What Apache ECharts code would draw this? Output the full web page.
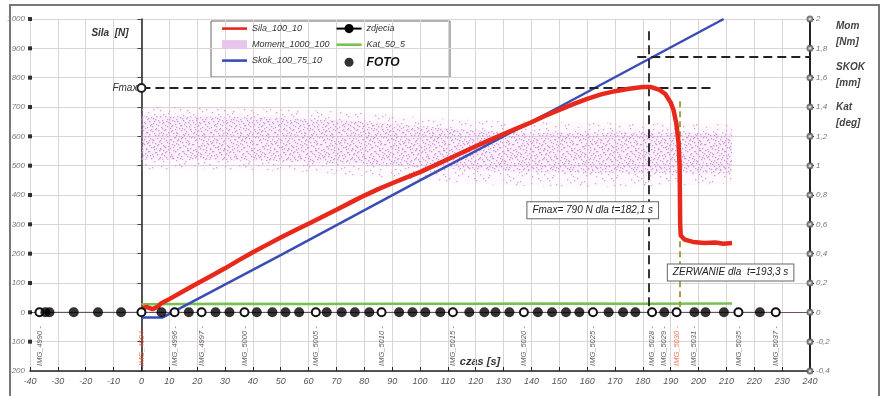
<!DOCTYPE html>
<html>
<head>
<meta charset="utf-8">
<script src="https://cdn.jsdelivr.net/npm/echarts@6/dist/echarts.min.js"></script>
<style>
  html, body { margin: 0; padding: 0; background: #fff; }
  #chart { width: 885px; height: 396px; }
</style>
</head>
<body>
<div id="chart"></div>
<script>
// Sila_100_10 [s, N] (left axis)
const silaPts = [
  [0, 14], [2, 18], [4, 11], [6, 20], [7, 30], [10, 45], [15, 72], [20, 98], [25, 124],
  [30, 150], [35, 178], [40, 205], [45, 230], [50, 255], [55, 279], [60, 302], [65, 326],
  [70, 350], [75, 374], [80, 398], [85, 420], [90, 440], [95, 459], [100, 478], [105, 500],
  [110, 522], [115, 544], [120, 566], [125, 587], [130, 608], [135, 628], [140, 648],
  [145, 670], [150, 690], [155, 710], [160, 728], [165, 743], [170, 754], [175, 762],
  [180, 768], [183, 768], [186, 758], [188, 745], [190, 715], [191, 690], [192, 645],
  [192.8, 580], [193.2, 500], [193.4, 300], [193.6, 262], [195, 248], [198, 240],
  [202, 236], [206, 238], [209, 234], [212, 236]
];
// Skok_100_75_10 [s, mm] (right axis)
const skokPts = [[0, -0.036], [7.5, -0.036], [50, 0.39], [100, 0.9], [150, 1.4], [209, 2.0]];
// Kat_50_5 [s, deg] (right axis)
const katPts = [[0, 0.055], [30, 0.058], [60, 0.057], [90, 0.059], [120, 0.058], [150, 0.06], [180, 0.059], [212, 0.061]];
// Moment_1000_100 cloud envelope [Nm] (right axis)
const cloudX         = [0, 20, 40, 60, 80, 100, 120, 140, 160, 180, 200, 212];
const cloudOuterLow  = [0.976, 0.976, 0.97, 0.956, 0.93, 0.9, 0.876, 0.86, 0.856, 0.86, 0.87, 0.88];
const cloudCoreLow   = [1.04, 1.04, 1.036, 1.024, 1.01, 0.99, 0.97, 0.956, 0.95, 0.948, 0.948, 0.95];
const cloudCoreHigh  = [1.34, 1.336, 1.33, 1.32, 1.3, 1.27, 1.24, 1.224, 1.224, 1.228, 1.224, 1.22];
const cloudOuterHigh = [1.4, 1.4, 1.39, 1.38, 1.36, 1.33, 1.31, 1.3, 1.296, 1.29, 1.29, 1.28];
// FOTO (black dots) and zdjecia (open circles) times [s]
const fotoTimes = [-34.5, -33, -24.3, -15.6, -7.3, 7.2, 17, 26.6, 31.6, 41.4, 47, 51.7, 56.6,
  66.5, 71.9, 76.6, 81.8, 92.5, 97.3, 101.9, 107.3, 117.7, 123.1, 127.1, 132.1, 142.3, 147.4,
  152.4, 157.2, 167.7, 172.9, 177.3, 187.7, 198.5, 202.5, 209.1, 222];
const zdjeciaTimes = [-36.6, 0, 11.9, 21.6, 37, 62.6, 86.2, 111.8, 137.3, 162.1, 183.3, 192.1, 214.3, 227.7];
const photoLabelTimes = [-36.6, 0, 11.9, 21.6, 37, 62.6, 86.2, 111.8, 137.3, 162.1, 183.3, 187.7, 192.1, 198.5, 214.3, 227.7];
const photoLabelNames = ['IMG_4990', 'IMG_4994', 'IMG_4996', 'IMG_4997', 'IMG_5000', 'IMG_5005',
  'IMG_5010', 'IMG_5015', 'IMG_5020', 'IMG_5025', 'IMG_5028', 'IMG_5029', 'IMG_5030', 'IMG_5031',
  'IMG_5035', 'IMG_5037'];
const photoLabelRed = ['IMG_4994', 'IMG_5030'];
// left-edge square markers [N] and right-axis circle markers
const leftMarks = [-100, 0, 100, 200, 300, 400, 500, 600, 700, 800, 900, 1000];
const rightMarks = [-0.4, -0.2, 0, 0.2, 0.4, 0.6, 0.8, 1, 1.2, 1.4, 1.6, 1.8, 2];
// key events
const fmaxTime = 182.1, fmaxLine = 765, breakTime = 193.3, skokAtFmax = 1.74;

const FONT = 'Arial, "Liberation Sans", sans-serif';

// speckle texture for the Moment cloud (Halton layout, texture only)
function halton(i, b) {
  let f = 1, r = 0;
  while (i > 0) { f /= b; r += f * (i % b); i = Math.floor(i / b); }
  return r;
}
function speckle(size, count, color) {
  const c = document.createElement('canvas');
  c.width = size; c.height = size;
  const g = c.getContext('2d');
  g.fillStyle = color;
  for (let i = 1; i <= count; i++) {
    g.fillRect(Math.floor(halton(i, 2) * size), Math.floor(halton(i, 3) * size), 1.3, 1.3);
  }
  return { image: c, repeat: 'repeat' };
}
const densePat = speckle(64, 440, '#d49ada');
const sparsePat = speckle(64, 120, '#d8a2dc');

function bandRenderer(low, high, fill, haze) {
  return function (params, api) {
    const top = cloudX.map((x, i) => api.coord([x, high[i]]));
    const bottom = cloudX.map((x, i) => api.coord([x, low[i]])).reverse();
    const pts = top.concat(bottom);
    return {
      type: 'group', silent: true,
      children: [
        { type: 'polygon', shape: { points: pts }, style: { fill: haze } },
        { type: 'polygon', shape: { points: pts }, style: { fill: fill } }
      ]
    };
  };
}

const lineIcon = 'path://M0,0h25v2.6h-25z';

const chart = echarts.init(document.getElementById('chart'), null, { renderer: 'canvas' });

chart.setOption({
  animation: false,
  textStyle: { fontFamily: FONT },
  grid: { left: 30, right: 75, top: 19, bottom: 25 },
  legend: {
    orient: 'vertical', left: 222, top: 24, height: 50, padding: 0,
    itemWidth: 25, itemHeight: 9, itemGap: 7,
    textStyle: { fontSize: 9, fontStyle: 'italic', color: '#333', fontFamily: FONT },
    data: [
      { name: 'Sila_100_10', icon: lineIcon },
      { name: 'Moment_1000_100', icon: 'rect', itemStyle: { color: '#e8c6ec' } },
      { name: 'Skok_100_75_10', icon: lineIcon },
      { name: 'zdjecia', itemStyle: { color: '#000', borderColor: '#000' }, lineStyle: { color: '#000' } },
      { name: 'Kat_50_5', icon: lineIcon },
      { name: 'FOTO', icon: 'circle', textStyle: { fontSize: 12, fontWeight: 'bold', fontStyle: 'italic', color: '#111' } }
    ]
  },
  xAxis: {
    type: 'value', min: -40, max: 240, interval: 10,
    axisLine: { onZero: false, lineStyle: { color: '#222', width: 1.5 } },
    axisTick: { inside: true, length: 4, lineStyle: { color: '#222' } },
    axisLabel: { fontSize: 9, fontStyle: 'italic', color: '#555', margin: 6 },
    splitLine: { show: true, lineStyle: { color: '#ddd3d3', width: 1 } }
  },
  yAxis: [
    {
      type: 'value', min: -200, max: 1000, interval: 100,
      axisLine: { show: true, onZero: true, lineStyle: { color: '#222', width: 1.5 } },
      axisTick: { show: true, length: 4, lineStyle: { color: '#444' } },
      axisLabel: { fontSize: 8, fontStyle: 'italic', color: '#777', margin: 5, formatter: v => String(v) },
      splitLine: { show: true, lineStyle: { color: '#ddd3d3', width: 1 } }
    },
    {
      type: 'value', position: 'right', min: -0.4, max: 2, interval: 0.2,
      axisLine: { show: true, lineStyle: { color: '#222', width: 2 } },
      axisTick: { show: true, length: 4, lineStyle: { color: '#444' } },
      axisLabel: {
        fontSize: 8, fontStyle: 'italic', color: '#777', margin: 6,
        formatter: v => String(Math.round(v * 10) / 10).replace('.', ',')
      },
      splitLine: { show: false }
    }
  ],
  graphic: [
    { type: 'rect', shape: { x: 10, y: 5, width: 869, height: 400 }, style: { fill: null, stroke: '#777', lineWidth: 2 }, silent: true },
    { type: 'rect', shape: { x: 211, y: 21, width: 239, height: 56 }, style: { fill: 'rgba(255,255,255,0.85)', stroke: '#666', lineWidth: 1 }, z: 0, silent: true },
    { type: 'text', style: { x: 110, y: 33, text: 'Sila  [N]', font: 'italic bold 10px ' + FONT, fill: '#333', textAlign: 'center', textVerticalAlign: 'middle' } },
    { type: 'text', style: { x: 480, y: 362, text: 'czas [s]', font: 'italic bold 11px ' + FONT, fill: '#333', textAlign: 'center', textVerticalAlign: 'middle' } },
    { type: 'text', style: { x: 836, y: 34, text: 'Mom\n[Nm]', font: 'italic bold 10px ' + FONT, lineHeight: 16, fill: '#444', textVerticalAlign: 'middle' } },
    { type: 'text', style: { x: 836, y: 75, text: 'SKOK\n[mm]', font: 'italic bold 10px ' + FONT, lineHeight: 16, fill: '#444', textVerticalAlign: 'middle' } },
    { type: 'text', style: { x: 836, y: 115, text: 'Kat\n[deg]', font: 'italic bold 10px ' + FONT, lineHeight: 16, fill: '#444', textVerticalAlign: 'middle' } }
  ],
  series: [
    {
      name: 'cloudOuter1', type: 'custom', yAxisIndex: 1, z: 1, silent: true,
      data: [[cloudX[0], cloudOuterLow[0]]],
      renderItem: bandRenderer(cloudOuterLow, cloudCoreLow, sparsePat, 'rgba(232,196,236,0.1)')
    },
    {
      name: 'Moment_1000_100', type: 'custom', yAxisIndex: 1, z: 1, silent: true,
      itemStyle: { color: '#e8c6ec' },
      data: [[cloudX[0], cloudCoreLow[0]]],
      renderItem: bandRenderer(cloudCoreLow, cloudCoreHigh, densePat, 'rgba(232,196,238,0.25)')
    },
    {
      name: 'cloudOuter2', type: 'custom', yAxisIndex: 1, z: 1, silent: true,
      data: [[cloudX[0], cloudCoreHigh[0]]],
      renderItem: bandRenderer(cloudCoreHigh, cloudOuterHigh, sparsePat, 'rgba(232,196,236,0.1)')
    },
    {
      name: 'Kat_50_5', type: 'line', yAxisIndex: 1, data: katPts, symbol: 'none', z: 3,
      itemStyle: { color: '#78c050' }, lineStyle: { color: '#78c050', width: 2.5 }
    },
    {
      name: 'Skok_100_75_10', type: 'line', yAxisIndex: 1, data: skokPts, symbol: 'none', z: 4,
      itemStyle: { color: '#3a4db5' }, lineStyle: { color: '#3a4db5', width: 2.5 },
      markLine: {
        silent: true, symbol: ['none', 'none'], label: { show: false },
        lineStyle: { type: [9, 5], color: '#222', width: 1.8 },
        data: [[{ coord: [178, skokAtFmax] }, { coord: [240, skokAtFmax] }]]
      }
    },
    {
      name: 'Sila_100_10', type: 'line', data: silaPts, symbol: 'none', z: 5,
      itemStyle: { color: '#e8281a' }, lineStyle: { color: '#e8281a', width: 4.5 },
      markLine: {
        silent: true, symbol: ['none', 'none'], label: { show: false },
        lineStyle: { type: [9, 5], color: '#222', width: 1.8 },
        data: [
          [
            { coord: [0, fmaxLine], symbol: 'emptyCircle', symbolSize: 8,
              label: { show: true, position: 'start', formatter: 'Fmax', fontSize: 10, fontStyle: 'italic', color: '#333', distance: 4 } },
            { coord: [206, fmaxLine], symbol: 'none' }
          ],
          [{ coord: [fmaxTime, 958] }, { coord: [fmaxTime, -5] }],
          [
            { coord: [breakTime, 720], lineStyle: { color: '#9c983a', width: 1.8, type: [6, 4] } },
            { coord: [breakTime, -5] }
          ]
        ]
      },
      markPoint: {
        silent: true, symbol: 'rect', symbolSize: 1, itemStyle: { color: 'rgba(0,0,0,0)' },
        label: {
          show: true, position: 'inside', fontSize: 10, fontStyle: 'italic', color: '#222',
          backgroundColor: '#fff', borderColor: '#666', borderWidth: 1, padding: [3, 5]
        },
        data: [
          { coord: [162, 348], label: { formatter: 'Fmax= 790 N dla t=182,1 s' } },
          { coord: [211.5, 136], label: { formatter: 'ZERWANIE dla  t=193,3 s' } }
        ]
      }
    },
    {
      name: 'photoLabels', type: 'scatter', data: photoLabelTimes.map((t, i) => ({
        value: [t, 0],
        label: { color: photoLabelRed.includes(photoLabelNames[i]) ? '#f0502a' : '#333' }
      })),
      symbolSize: 0, silent: true, z: 6, clip: false,
      label: {
        show: true, position: 'bottom', distance: 14, rotate: 90, align: 'right', verticalAlign: 'middle',
        fontSize: 7.5, fontStyle: 'italic',
        formatter: p => photoLabelNames[p.dataIndex] + ' -'
      }
    },
    {
      name: 'zdjecia', type: 'line', data: zdjeciaTimes.map(t => [t, 0]), z: 8,
      symbol: 'circle', symbolSize: 8, showAllSymbol: true, clip: false,
      itemStyle: { color: '#fff', borderColor: '#111', borderWidth: 2 },
      lineStyle: { color: '#6d4f6d', width: 1 },
      markLine: {
        silent: true, symbol: ['none', 'none'], label: { show: false },
        lineStyle: { type: 'solid', color: '#6d4f6d', width: 1 },
        data: [{ yAxis: 0 }]
      }
    },
    {
      name: 'FOTO', type: 'scatter', data: fotoTimes.map(t => [t, 0]), symbol: 'circle', symbolSize: 10, z: 9,
      itemStyle: { color: '#000' }
    },
    {
      name: 'leftMarks', type: 'scatter', data: leftMarks.map(v => [-40, v]), symbol: 'rect', symbolSize: 4,
      clip: false, silent: true, z: 9, itemStyle: { color: '#000' }
    },
    {
      name: 'rightMarks', type: 'scatter', yAxisIndex: 1, data: rightMarks.map(v => [240, v]), symbol: 'emptyCircle',
      symbolSize: 5, clip: false, silent: true, z: 9, itemStyle: { color: '#555', borderWidth: 1 }
    }
  ]
});
</script>
</body>
</html>
